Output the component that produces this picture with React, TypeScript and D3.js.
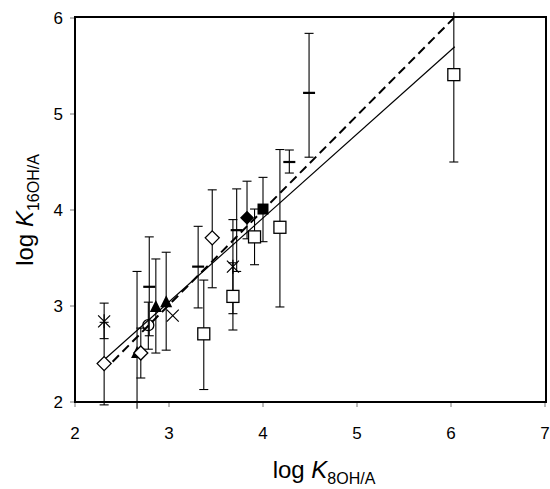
import React from "react";
import * as d3 from "d3";

// ---- data ----
const markerTypes = [
  "asterisk", "openDiamond", "filledTriangle", "openDiamond", "openCircle",
  "dash", "filledTriangle", "filledTriangle", "xCross", "dash",
  "openSquare", "openDiamond", "asterisk", "openSquare", "dash",
  "filledDiamond", "openSquare", "filledSquare", "openSquare", "dash",
  "dash", "openSquare",
];
const xVals = [
  2.31, 2.31, 2.66, 2.70, 2.78,
  2.79, 2.86, 2.97, 3.04, 3.31,
  3.37, 3.46, 3.68, 3.68, 3.72,
  3.83, 3.91, 4.0, 4.18, 4.28,
  4.49, 6.03,
];
const yVals = [
  2.84, 2.40, 2.51, 2.51, 2.80,
  3.20, 2.99, 3.04, 2.90, 3.41,
  2.71, 3.71, 3.41, 3.10, 3.79,
  3.92, 3.72, 4.01, 3.82, 4.50,
  5.22, 5.41,
];
const yLow: (number | null)[] = [
  2.66, 1.97, 1.93, 2.25, 2.55,
  2.69, 2.51, 2.54, null, 2.98,
  2.13, 3.19, 2.92, 2.75, 3.36,
  3.70, 3.43, 3.67, 2.99, 4.385,
  4.55, 4.50,
];
const yHigh: (number | null)[] = [
  3.03, 2.83, 3.36, 2.77, 3.04,
  3.72, 3.49, 3.56, null, 3.83,
  3.27, 4.21, 3.90, 3.45, 4.22,
  4.30, 4.01, 4.34, 4.63, 4.625,
  5.84, 6.06,
];
// regression lines (endpoints)
const solidLine = [[2.31, 2.44], [6.04, 5.70]];
const dashedLine = [[2.40, 2.42], [6.03, 6.0]];
const xTicks = [2, 3, 4, 5, 6, 7];
const yTicks = [2, 3, 4, 5, 6];

const W = 550, H = 489;
const x = d3.scaleLinear().domain([2, 7]).range([75, 545]);
const y = d3.scaleLinear().domain([2, 6]).range([402, 18]);

function Marker({ type, cx, cy }: { type: string; cx: number; cy: number }) {
  const s = 6;
  switch (type) {
    case "openSquare":
      return <rect x={cx - s} y={cy - s} width={2 * s} height={2 * s} fill="#fff" stroke="#000" strokeWidth={1.3} />;
    case "filledSquare":
      return <rect x={cx - 5.5} y={cy - 5.5} width={11} height={11} fill="#000" />;
    case "openDiamond":
      return <polygon points={`${cx},${cy - 7} ${cx + 7},${cy} ${cx},${cy + 7} ${cx - 7},${cy}`} fill="#fff" stroke="#000" strokeWidth={1.3} />;
    case "filledDiamond":
      return <polygon points={`${cx},${cy - 7} ${cx + 7},${cy} ${cx},${cy + 7} ${cx - 7},${cy}`} fill="#000" />;
    case "filledTriangle":
      return <polygon points={`${cx},${cy - 7} ${cx + 6},${cy + 5} ${cx - 6},${cy + 5}`} fill="#000" />;
    case "openCircle":
      return <circle cx={cx} cy={cy} r={5.5} fill="none" stroke="#000" strokeWidth={1.3} />;
    case "xCross":
      return <path d={`M${cx - 6},${cy - 6}L${cx + 6},${cy + 6}M${cx - 6},${cy + 6}L${cx + 6},${cy - 6}`} stroke="#000" strokeWidth={1.2} />;
    case "asterisk":
      return <path d={`M${cx - 6},${cy - 6}L${cx + 6},${cy + 6}M${cx - 6},${cy + 6}L${cx + 6},${cy - 6}M${cx},${cy - 7}L${cx},${cy + 7}`} stroke="#000" strokeWidth={1.2} />;
    case "dash":
      return <line x1={cx - 6} x2={cx + 6} y1={cy} y2={cy} stroke="#000" strokeWidth={2.2} />;
    default:
      return null;
  }
}

export default function App() {
  const capW = 4.5;
  const line = d3.line<number[]>().x((d) => x(d[0])).y((d) => y(d[1]));
  return (
    <svg width={W} height={H} style={{ position: "absolute", left: 0, top: 0 }} fontFamily="'Liberation Sans', Arial, sans-serif">
      <rect x={0} y={0} width={W} height={H} fill="#fff" />
      {/* ticks */}
      {xTicks.map((t) => (
        <g key={"xt" + t}>
          <line x1={x(t)} x2={x(t)} y1={402} y2={407} stroke="#777" strokeWidth={1} />
          <text x={x(t)} y={439} fontSize={17} textAnchor="middle">{t}</text>
        </g>
      ))}
      {yTicks.map((t) => (
        <g key={"yt" + t}>
          <line x1={70} x2={75} y1={y(t)} y2={y(t)} stroke="#777" strokeWidth={1} />
          <text x={63} y={y(t) + 6} fontSize={17} textAnchor="end">{t}</text>
        </g>
      ))}
      {/* error bars */}
      {xVals.map((xv, i) => {
        const lo = yLow[i], hi = yHigh[i];
        if (lo == null || hi == null) return null;
        const cx = x(xv);
        return (
          <g key={"eb" + i} stroke="#000" strokeWidth={1.1}>
            <line x1={cx} x2={cx} y1={y(lo)} y2={y(hi)} />
            {lo >= 1.95 && <line x1={cx - capW} x2={cx + capW} y1={y(lo)} y2={y(lo)} />}
            {hi <= 6 && <line x1={cx - capW} x2={cx + capW} y1={y(hi)} y2={y(hi)} />}
          </g>
        );
      })}
      {/* regression lines */}
      <path d={line(solidLine) || ""} fill="none" stroke="#000" strokeWidth={1.2} />
      <path d={line(dashedLine) || ""} fill="none" stroke="#000" strokeWidth={2} strokeDasharray="9,5" />
      {/* markers */}
      {xVals.map((xv, i) => (
        <Marker key={"m" + i} type={markerTypes[i]} cx={x(xv)} cy={y(yVals[i])} />
      ))}
      {/* frame */}
      <rect x={75} y={17} width={471} height={385} fill="none" stroke="#000" strokeWidth={2} />
      {/* axis titles */}
      <text x={324} y={478} fontSize={24} textAnchor="middle">
        log <tspan fontStyle="italic">K</tspan><tspan fontSize={16} dy={6}>8OH/A</tspan>
      </text>
      <text transform="translate(33,210) rotate(-90)" fontSize={24} textAnchor="middle">
        log <tspan fontStyle="italic">K</tspan><tspan fontSize={16} dy={6}>16OH/A</tspan>
      </text>
    </svg>
  );
}
